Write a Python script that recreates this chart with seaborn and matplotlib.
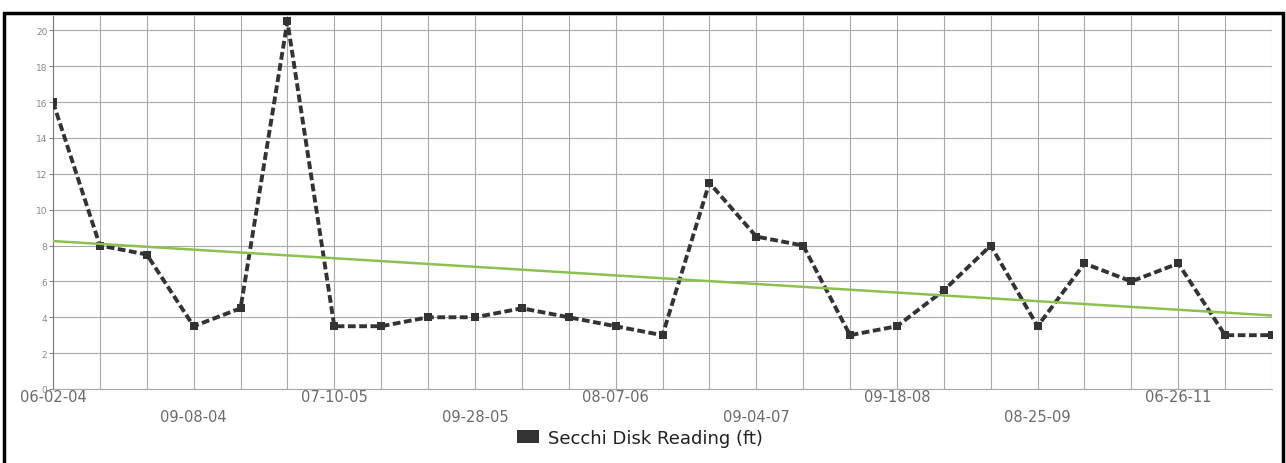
import matplotlib
matplotlib.use("Agg")
import matplotlib.pyplot as plt
import seaborn as sns
import pandas as pd
from matplotlib.patches import Patch, Rectangle

# readings in sample order
secchi_ft = [16, 8, 7.5, 3.5, 4.5, 20.5, 3.5, 3.5, 4, 4, 4.5, 4, 3.5, 3,
             11.5, 8.5, 8, 3, 3.5, 5.5, 8, 3.5, 7, 6, 7, 3, 3]
# dates shown under every third sample
date_labels = ["06-02-04", "09-08-04", "07-10-05", "09-28-05", "08-07-06",
               "09-04-07", "09-18-08", "08-25-09", "06-26-11"]
# trend line values at first and last sample
trend_ends = [8.25, 4.1]

df = pd.DataFrame({"sample": range(len(secchi_ft)), "reading": secchi_ft})
trend_df = pd.DataFrame({"sample": [0, len(secchi_ft) - 1], "reading": trend_ends})

sns.set_style("white")
plt.rcParams["font.family"] = ["DejaVu Sans"]

fig = plt.figure(figsize=(12.86, 4.64), dpi=100)
ax = fig.add_axes([53 / 1286, 74 / 464, 1219 / 1286, 373 / 464])

sns.lineplot(data=df, x="sample", y="reading", ax=ax, color="#333333",
             linewidth=2.8, marker="s", markersize=5.5, markeredgewidth=0,
             zorder=3)
ax.lines[-1].set_dashes([2.0, 0.9])
sns.lineplot(data=trend_df, x="sample", y="reading", ax=ax, color="#8cc152",
             linewidth=1.8, zorder=4)

ax.set_xlim(0, len(secchi_ft) - 1)
ax.set_ylim(0, 20.8)
ax.set_yticks(range(0, 21, 2))
ax.tick_params(axis="y", labelsize=6.5, labelcolor="#888888", length=3,
               color="#888888", pad=1, left=True)

ax.set_xticks(range(len(secchi_ft)))
labels = [""] * len(secchi_ft)
for i, lab in enumerate(date_labels):
    pos = i * 3
    labels[pos] = lab if i % 2 == 0 else "\n" + lab
ax.set_xticklabels(labels)
ax.tick_params(axis="x", labelsize=10.5, labelcolor="#6a6a6a", length=0, pad=0)
for t in ax.get_xticklabels():
    t.set_linespacing(1.45)

ax.grid(True, color="#a8a8a8", linewidth=0.8)
ax.set_axisbelow(True)
for side in ["top", "right"]:
    ax.spines[side].set_visible(False)
ax.spines["left"].set_color("#777777")
ax.spines["left"].set_linewidth(0.8)
ax.spines["bottom"].set_color("#a8a8a8")
ax.spines["bottom"].set_linewidth(0.8)
ax.set_xlabel("")
ax.set_ylabel("")

handle = Patch(facecolor="#333333", edgecolor="none")
fig.legend([handle], ["Secchi Disk Reading (ft)"], loc="center",
           bbox_to_anchor=(640 / 1286, 25 / 464), frameon=False,
           fontsize=13, handletextpad=0.5, handlelength=1.2, handleheight=0.7,
           labelcolor="#222222")

# black frame around the chart
fig.patches.append(Rectangle((3.5 / 1286, -0.05), 1279 / 1286, (464 - 13.5) / 464 + 0.05,
                             transform=fig.transFigure, fill=False,
                             edgecolor="black", linewidth=2.5))

fig.savefig("out.png", dpi=100)
